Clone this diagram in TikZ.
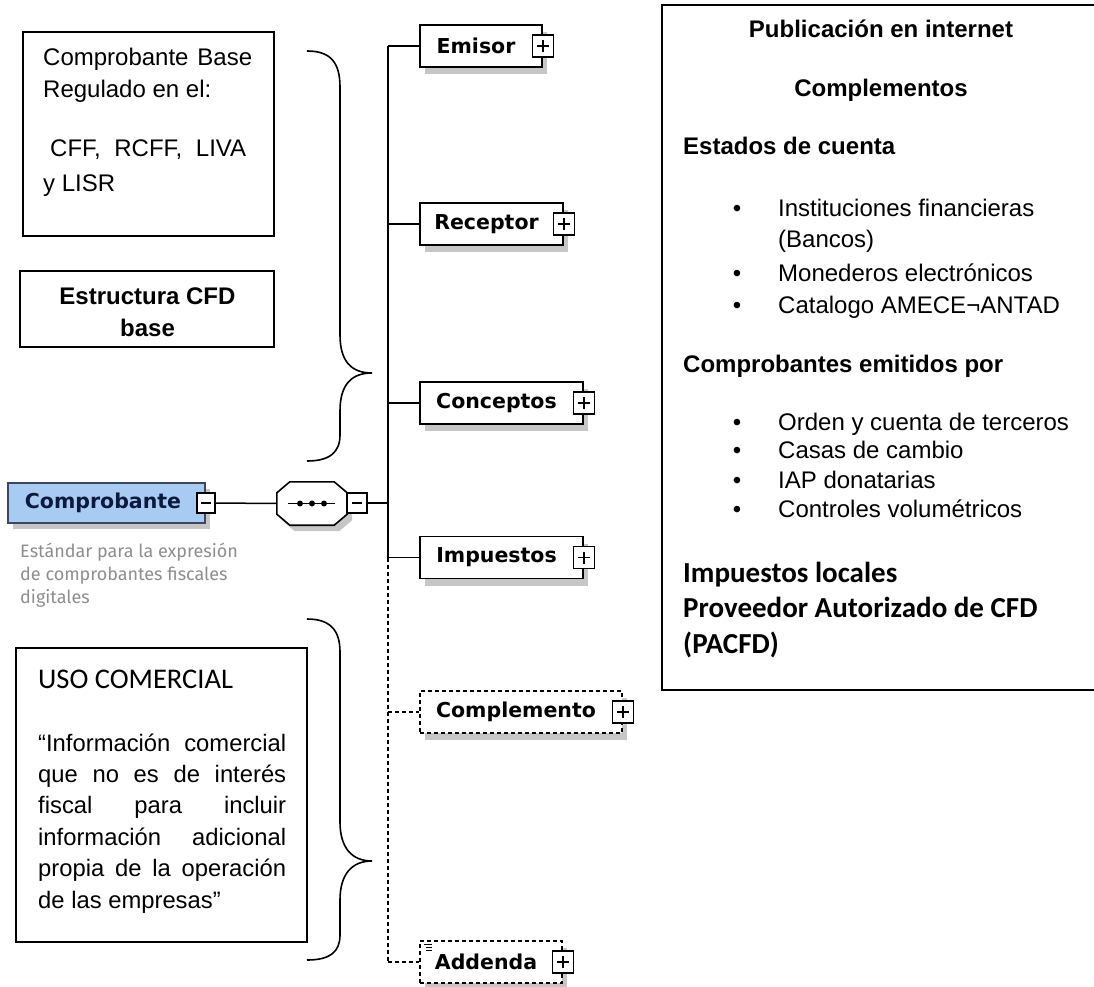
\documentclass[tikz,border=0pt]{standalone}
\usepackage{fontspec}
\setmainfont{Liberation Sans}
\newfontfamily\tahfont{DejaVu Sans}
\newfontfamily\calfont{Carlito}
\newfontfamily\ubufont{Fira Sans}
\usetikzlibrary{shadows}
\definecolor{cmpblue}{HTML}{A8CBF2}
\definecolor{cmpnavy}{HTML}{0B1A3C}
\definecolor{descgray}{HTML}{8E8E8E}
\definecolor{shadowgray}{HTML}{C6C6C6}
\begin{document}
\begin{tikzpicture}[x=1pt,y=-1pt,
  elem/.style={draw, line width=1.8pt, fill=white, minimum height=42pt, inner sep=0pt,
    font={\tahfont\bfseries\fontsize{20.5}{24}\selectfont},
    drop shadow={shadow xshift=5pt, shadow yshift=-7pt, fill=shadowgray, opacity=1}},
  optelem/.style={elem, dash pattern=on 4pt off 3pt, line width=1.7pt},
  plusbox/.style={draw, fill=white, line width=1.3pt, minimum width=21pt, minimum height=22pt, inner sep=0pt,
    path picture={\draw[line width=1.4pt] ([xshift=-6pt]path picture bounding box.center) -- ([xshift=6pt]path picture bounding box.center)
      ([yshift=-6pt]path picture bounding box.center) -- ([yshift=6pt]path picture bounding box.center);}},
  minusbox/.style={draw, fill=white, line width=1.3pt, minimum width=18pt, minimum height=20pt, inner sep=0pt,
    path picture={\draw[line width=1.4pt] ([xshift=-5pt]path picture bounding box.center) -- ([xshift=5pt]path picture bounding box.center);}},
  conn/.style={line width=1.5pt},
  optconn/.style={line width=2pt, dash pattern=on 4pt off 3pt},
  frame/.style={draw, line width=1.6pt, inner sep=0pt},
  txt/.style={inner sep=0pt, font={\fontsize{24}{28}\selectfont}},
  ptxt/.style={inner sep=0pt, font={\fontsize{23.8}{28}\selectfont}},
  btxt/.style={inner sep=0pt, font={\bfseries\fontsize{24}{28}\selectfont}},
  ctxt/.style={inner sep=0pt, font={\calfont\bfseries\fontsize{29}{34}\selectfont}},
  dtxt/.style={inner sep=0pt, text=descgray, font={\ubufont\fontsize{18}{20}\selectfont}},
  bul/.style={inner sep=0pt, font={\fontsize{24}{28}\selectfont}}
]
\useasboundingbox (0,0) rectangle (1094,987);

% ---------- left note boxes ----------
\node[frame, minimum width=251pt, minimum height=204pt] (basebox) at (148.5,134) {};
\node[txt, anchor=base west] (bl1) at (43,66) {\makebox[209pt][s]{Comprobante Base}};
\node[txt, anchor=base west] (bl2) at (43,98) {Regulado en el:};
\node[txt, anchor=base west] (bl3) at (50,157) {\makebox[196pt][s]{CFF, RCFF, LIVA}};
\node[txt, anchor=base west] (bl4) at (43,192) {y LISR};

\node[frame, minimum width=254pt, minimum height=76pt] (estbox) at (147,309) {};
\node[btxt, anchor=base] (es1) at (147.5,304) {Estructura CFD};
\node[btxt, anchor=base] (es2) at (147.5,336) {base};

\node[frame, minimum width=291pt, minimum height=294pt] (usobox) at (161.5,795) {};
\node[inner sep=0pt, anchor=base west, font={\calfont\fontsize{28.5}{32}\selectfont}] (uso) at (38,688) {USO COMERCIAL};
\node[ptxt, anchor=base west] (p1) at (38,751) {\makebox[248pt][s]{“Información comercial}};
\node[ptxt, anchor=base west] (p2) at (38,782) {\makebox[248pt][s]{que no es de interés}};
\node[ptxt, anchor=base west] (p3) at (38,813) {\makebox[248pt][s]{fiscal para incluir}};
\node[ptxt, anchor=base west] (p4) at (38,845) {\makebox[248pt][s]{información adicional}};
\node[ptxt, anchor=base west] (p5) at (38,876) {\makebox[248pt][s]{propia de la operación}};
\node[ptxt, anchor=base west] (p6) at (38,908) {de las empresas”};

% ---------- braces ----------
\draw[line width=1.6pt] (307,51) .. controls (330,51) and (340,62) .. (340,87) -- (340,335)
  .. controls (340,362) and (352,373) .. (372,373)
  .. controls (352,373) and (340,384) .. (340,411) -- (340,435)
  .. controls (340,452) and (330,461) .. (307,461);
\draw[line width=1.6pt] (307,619) .. controls (330,619) and (340,630) .. (340,652) -- (340,822)
  .. controls (340,848) and (352,861) .. (372,861)
  .. controls (352,861) and (340,874) .. (340,900) -- (340,935)
  .. controls (340,952) and (330,960) .. (307,960);

% ---------- root element ----------
\node[draw=cmpnavy!80, line width=1.8pt, fill=cmpblue, minimum width=197pt, minimum height=40pt, inner sep=0pt,
  text=cmpnavy, font={\tahfont\bfseries\fontsize{20.5}{24}\selectfont},
  drop shadow={shadow xshift=5pt, shadow yshift=-6pt, fill=shadowgray, opacity=1}] (cmp) at (106.5,503) {Comprobante\rule{7pt}{0pt}};
\node[minusbox] (cmpm) at (cmp.east) {};
\node[dtxt, anchor=base west] (d1) at (20,557) {Estándar para la expresión};
\node[dtxt, anchor=base west] (d2) at (20,580) {de comprobantes fiscales};
\node[dtxt, anchor=base west] (d3) at (20,603) {digitales};

% ---------- sequence compositor ----------
\node[minimum width=70pt, minimum height=43pt, inner sep=0pt] (seq) at (312,503.5) {};
\draw[line width=1.6pt, fill=white, drop shadow={shadow xshift=5pt, shadow yshift=-6pt, fill=shadowgray, opacity=1}]
  ([xshift=13pt]seq.north west) -- ([xshift=-13pt]seq.north east) -- ([yshift=-11pt]seq.north east)
  -- ([yshift=11pt]seq.south east) -- ([xshift=-13pt]seq.south east) -- ([xshift=13pt]seq.south west)
  -- ([yshift=11pt]seq.south west) -- ([yshift=-11pt]seq.north west) -- cycle;
\draw[line width=1.3pt] ([xshift=-24pt]seq.center) -- ([xshift=23pt]seq.center);
\fill ([xshift=-12pt]seq.center) circle (3pt) (seq.center) circle (3pt) ([xshift=12pt]seq.center) circle (3pt);
\node[minusbox, minimum width=20pt] (seqm) at (357,503) {};
\coordinate (tc) at (388,503);
\draw[conn] (cmpm.east) -- (seq.west);
\draw[conn] (seqm.east) -- (tc);

% ---------- child elements ----------
\node[elem, minimum width=122pt] (emisor) at (481,46) {Emisor\rule{10pt}{0pt}};
\node[plusbox] (emisorp) at (emisor.east) {};
\node[elem, minimum width=143pt] (receptor) at (491.5,224) {Receptor\rule{10pt}{0pt}};
\node[plusbox] (receptorp) at (receptor.east) {};
\node[elem, minimum width=163pt] (conceptos) at (501.5,403) {Conceptos\rule{10pt}{0pt}};
\node[plusbox] (conceptosp) at (conceptos.east) {};
\node[elem, minimum width=163pt] (impuestos) at (501.5,557.5) {Impuestos\rule{10pt}{0pt}};
\node[plusbox] (impuestosp) at (impuestos.east) {};
\node[optelem, minimum width=202pt] (complemento) at (521,712) {Complemento\rule{10pt}{0pt}};
\node[plusbox] (complementop) at (complemento.east) {};
\node[optelem, minimum width=142pt] (addenda) at (491,962) {Addenda\rule{10pt}{0pt}};
\node[plusbox] (addendap) at (addenda.east) {};
\draw[line width=0.9pt] (424,944) -- (432,944) (426,947) -- (432,947) (426,950) -- (432,950);

% trunk and branches
\draw[conn] (emisor.west -| tc) -- (impuestos.west -| tc);
\draw[optconn] (impuestos.west -| tc) -- (addenda.west -| tc);
\draw[conn] (emisor.west -| tc) -- (emisor.west);
\draw[conn] (receptor.west -| tc) -- (receptor.west);
\draw[conn] (conceptos.west -| tc) -- (conceptos.west);
\draw[conn] (impuestos.west -| tc) -- (impuestos.west);
\draw[optconn] (complemento.west -| tc) -- (complemento.west);
\draw[optconn] (addenda.west -| tc) -- (addenda.west);

% ---------- right box ----------
\node[frame, line width=1.8pt, minimum width=436pt, minimum height=685pt] (pubbox) at (880,347.5) {};
\node[btxt, anchor=base] (h1) at (881,38) {Publicación en internet};
\node[btxt, anchor=base] (h2) at (881,97) {Complementos};
\node[btxt, anchor=base west] (h3) at (683,155) {Estados de cuenta};
\node[bul, anchor=base] (b1) at (737,216) {\textbullet};
\node[txt, anchor=base west] (i1) at (778,216) {Instituciones financieras};
\node[txt, anchor=base west] (i1b) at (778,247) {(Bancos)};
\node[bul, anchor=base] (b2) at (737,281) {\textbullet};
\node[txt, anchor=base west] (i2) at (778,281) {Monederos electrónicos};
\node[bul, anchor=base] (b3) at (737,313) {\textbullet};
\node[txt, anchor=base west] (i3) at (778,313) {Catalogo AMECE¬ANTAD};
\node[btxt, anchor=base west] (h4) at (683,372) {Comprobantes emitidos por};
\node[bul, anchor=base] (b4) at (737,430) {\textbullet};
\node[txt, anchor=base west] (j1) at (778,430) {Orden y cuenta de terceros};
\node[bul, anchor=base] (b5) at (737,458) {\textbullet};
\node[txt, anchor=base west] (j2) at (778,458) {Casas de cambio};
\node[bul, anchor=base] (b6) at (737,488) {\textbullet};
\node[txt, anchor=base west] (j3) at (778,488) {IAP donatarias};
\node[bul, anchor=base] (b7) at (737,517) {\textbullet};
\node[txt, anchor=base west] (j4) at (778,517) {Controles volumétricos};
\node[ctxt, anchor=base west] (k1) at (683,582) {Impuestos locales};
\node[ctxt, anchor=base west] (k2) at (683,617) {Proveedor Autorizado de CFD};
\node[ctxt, anchor=base west] (k3) at (683,653) {(PACFD)};
\end{tikzpicture}
\end{document}
